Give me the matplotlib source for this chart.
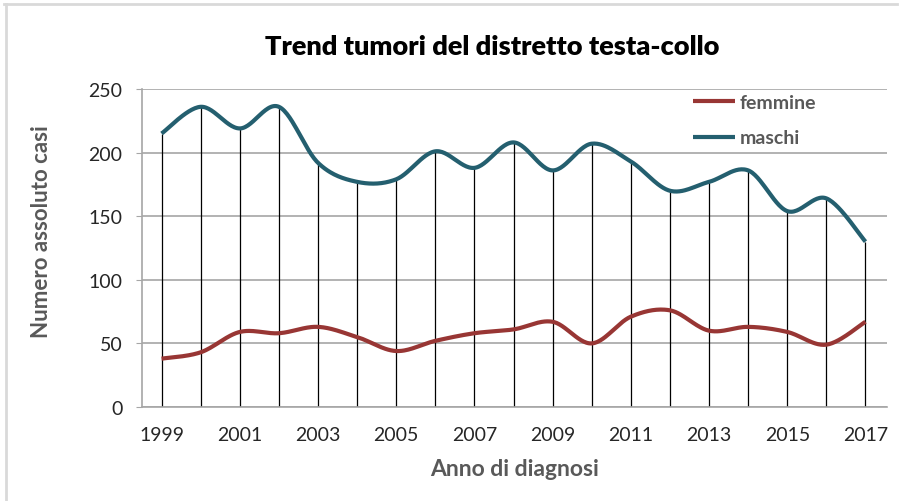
import numpy
import matplotlib
matplotlib.use('Agg')
from matplotlib import pyplot
from matplotlib.lines import Line2D

# Data
anni = [1999, 2000, 2001, 2002, 2003, 2004, 2005, 2006, 2007, 2008,
        2009, 2010, 2011, 2012, 2013, 2014, 2015, 2016, 2017]
femmine = [38, 43, 59, 58, 63, 55, 44, 52, 58, 61,
           67, 50, 71, 76, 60, 63, 59, 49, 67]
maschi = [215, 236, 219, 236, 192, 177, 179, 201, 188, 208,
          186, 207, 193, 170, 177, 186, 154, 164, 130]
etichette_anni = [str(a) for a in anni[::2]]

COL_F = '#983634'
COL_M = '#245f6f'
GREY_TXT = '#595959'


def smooth(x, y, steps=30):
    # Excel-like smoothed line: Catmull-Rom segments as cubic Bezier
    x = numpy.asarray(x, float)
    y = numpy.asarray(y, float)
    px = numpy.concatenate([[x[0]], x, [x[-1]]])
    py = numpy.concatenate([[y[0]], y, [y[-1]]])
    t = numpy.linspace(0, 1, steps)[:, None]
    xs, ys = [], []
    for i in range(1, len(px) - 2):
        p0 = numpy.array([px[i], py[i]])
        p3 = numpy.array([px[i + 1], py[i + 1]])
        c1 = p0 + (numpy.array([px[i + 1], py[i + 1]]) - numpy.array([px[i - 1], py[i - 1]])) / 6
        c2 = p3 - (numpy.array([px[i + 2], py[i + 2]]) - numpy.array([px[i], py[i]])) / 6
        seg = ((1 - t) ** 3) * p0 + 3 * ((1 - t) ** 2) * t * c1 + 3 * (1 - t) * t ** 2 * c2 + t ** 3 * p3
        xs.append(seg[:, 0])
        ys.append(seg[:, 1])
    return numpy.concatenate(xs), numpy.concatenate(ys)


pyplot.rcParams['font.family'] = ['Lato', 'DejaVu Sans']

fig = pyplot.figure(figsize=(9.05, 5.02), dpi=100)
ax = fig.add_axes([142 / 905, 94 / 502, 745 / 905, 318 / 502])

# outer frame of the chart object
fig.add_artist(Line2D([4 / 905, 897 / 905], [1 - 5 / 502, 1 - 5 / 502], transform=fig.transFigure, color='#d9d9d9', linewidth=2))
fig.add_artist(Line2D([6 / 905, 6 / 905], [0, 1 - 5 / 502], transform=fig.transFigure, color='#d9d9d9', linewidth=2))

ax.vlines(anni, 0, maschi, colors='black', linewidth=0.9, zorder=2)

xf, yf = smooth(anni, femmine)
xm, ym = smooth(anni, maschi)
ax.plot(xf, yf, color=COL_F, linewidth=3, label='femmine', zorder=3, solid_capstyle='butt')
ax.plot(xm, ym, color=COL_M, linewidth=3, label='maschi', zorder=3, solid_capstyle='butt')

ax.set_xlim(1998.5, 2017.55)
ax.set_ylim(0, 250)
ax.set_yticks(range(0, 251, 50))
ax.set_xticks(anni[::2], labels=etichette_anni)
ax.yaxis.grid(True, color='#a6a6a6', linewidth=1.2)
ax.set_axisbelow(True)
for s in ['top', 'right']:
    ax.spines[s].set_visible(False)
for s in ['left', 'bottom']:
    ax.spines[s].set_color('#a6a6a6')
    ax.spines[s].set_linewidth(1.2)
ax.tick_params(axis='y', length=4, color='#a6a6a6', labelsize=14, labelcolor='#262626', pad=10)
ax.tick_params(axis='x', length=0, labelsize=14, labelcolor='#262626', pad=14)

leg = ax.legend(loc='upper left', bbox_to_anchor=(693 / 905, 1 - 95 / 502), bbox_transform=fig.transFigure,
                frameon=False, borderpad=0, borderaxespad=0,
                prop={'size': 14, 'weight': 'bold'}, handlelength=2.15, handletextpad=0.25,
                labelspacing=0.95, labelcolor=GREY_TXT)

fig.text(492 / 905, 1 - 47 / 502, 'Trend tumori del distretto testa-collo', ha='center', va='center',
         fontsize=19.5, fontweight='heavy', color='black')
fig.text(515 / 905, 1 - 470 / 502, 'Anno di diagnosi', ha='center', va='center',
         fontsize=16.5, fontweight='bold', color=GREY_TXT)
fig.text(42 / 905, 1 - 232 / 502, 'Numero assoluto casi', ha='center', va='center', rotation=90,
         fontsize=16, fontweight='bold', color=GREY_TXT)

fig.savefig('out.png', dpi=100)
